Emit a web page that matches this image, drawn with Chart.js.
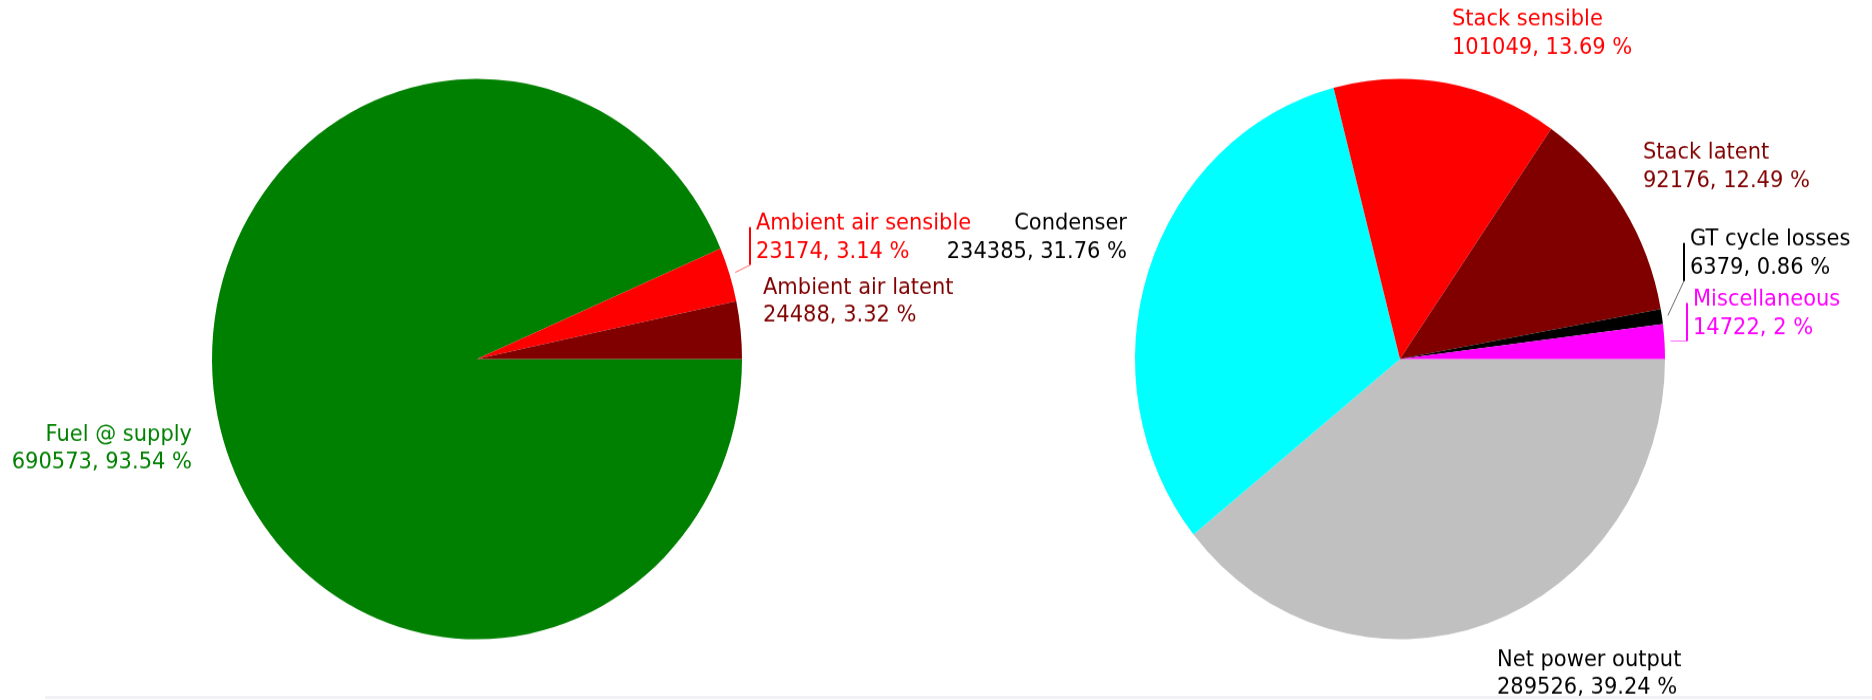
<!DOCTYPE html>
<html>
<head>
<meta charset="utf-8">
<script src="https://cdn.jsdelivr.net/npm/chart.js@4"></script>
<style>
  html, body { margin: 0; padding: 0; background: #fff; }
  body { width: 1872px; height: 700px; position: relative; overflow: hidden; }
  /* la imagen original esta un poco estirada en vertical */
  .pie { position: absolute; top: 0; left: 0; transform-origin: 0 0; transform: scaleY(1.0574); }
  .linea-base { position: absolute; left: 45px; right: 0; top: 696px; height: 3px; background: #f2f2f6; }
</style>
</head>
<body>
<canvas id="pie-entrada" class="pie" width="1872" height="662"></canvas>
<canvas id="pie-salida" class="pie" width="1872" height="662"></canvas>
<div class="linea-base"></div>
<script>
// datos en el orden de dibujo (sentido horario desde las 3 en punto)
const entradaNombres = ['Fuel @ supply', 'Ambient air sensible', 'Ambient air latent'];
const entradaValores = [690573, 23174, 24488];
const entradaPct = [93.54, 3.14, 3.32];
const entradaColores = ['#008000', '#ff0000', '#800000'];
const entradaTexto = ['#008000', '#ff0000', '#800000'];

const salidaNombres = ['Net power output', 'Condenser', 'Stack sensible', 'Stack latent', 'GT cycle losses', 'Miscellaneous'];
const salidaValores = [289526, 234385, 101049, 92176, 6379, 14722];
const salidaPct = [39.24, 31.76, 13.69, 12.49, 0.86, 2];
const salidaColores = ['#c0c0c0', '#00ffff', '#ff0000', '#800000', '#000000', '#ff00ff'];
const salidaTexto = ['#000000', '#000000', '#ff0000', '#800000', '#000000', '#ff00ff'];

// posicion de las etiquetas (coordenadas de la pagina)
const entradaEtiquetas = [
    { x: 192, y: 435, align: 'right' },
    { x: 756, y: 224, align: 'left', corchete: true },
    { x: 763, y: 288, align: 'left' }
];
const salidaEtiquetas = [
    { x: 1497, y: 660, align: 'left' },
    { x: 1127, y: 224, align: 'right' },
    { x: 1452, y: 20, align: 'left' },
    { x: 1643, y: 153, align: 'left' },
    { x: 1690, y: 240, align: 'left', corchete: true },
    { x: 1693, y: 300, align: 'left', corchete: true }
];

const ESCALA = 700 / 662;
const SALTO = 28;

function etiquetas(nombres, valores, pct, colores, layout) {
    return {
        id: 'etiquetas',
        afterDatasetsDraw(chart) {
            const ctx = chart.ctx;
            const meta = chart.getDatasetMeta(0);
            ctx.save();
            ctx.font = '21px "DejaVu Sans"';
            ctx.textBaseline = 'middle';
            meta.data.forEach((arc, i) => {
                const l = layout[i];
                const x = l.x;
                const y1 = l.y / ESCALA;
                const y2 = (l.y + SALTO) / ESCALA;
                ctx.fillStyle = colores[i];
                ctx.textAlign = l.align;
                ctx.fillText(nombres[i], x, y1);
                ctx.fillText(valores[i] + ', ' + pct[i] + ' %', x, y2);
                if (l.corchete) {
                    const bx = x - 6;
                    const top = (l.y + 3) / ESCALA;
                    const bottom = (l.y + SALTO + 13) / ESCALA;
                    ctx.strokeStyle = colores[i];
                    ctx.lineWidth = 2;
                    ctx.beginPath();
                    ctx.moveTo(bx, top);
                    ctx.lineTo(bx, bottom);
                    ctx.stroke();
                    // linea guia hasta el borde del sector
                    const p = arc.getProps(['x', 'y', 'startAngle', 'endAngle', 'outerRadius']);
                    const mid = (p.startAngle + p.endAngle) / 2;
                    const r = p.outerRadius + 6;
                    ctx.lineWidth = 1;
                    ctx.globalAlpha = 0.6;
                    ctx.beginPath();
                    ctx.moveTo(bx, bottom);
                    ctx.lineTo(p.x + r * Math.cos(mid), p.y + r * Math.sin(mid));
                    ctx.stroke();
                    ctx.globalAlpha = 1;
                }
            });
            ctx.restore();
        }
    };
}

function crearPie(id, nombres, valores, pct, colores, texto, layout, padding) {
    return new Chart(document.getElementById(id), {
        type: 'pie',
        data: {
            labels: nombres,
            datasets: [{
                data: valores,
                backgroundColor: colores,
                borderWidth: 0
            }]
        },
        options: {
            responsive: false,
            animation: false,
            rotation: 90,
            layout: { padding: padding },
            plugins: {
                legend: { display: false },
                tooltip: { enabled: false }
            }
        },
        plugins: [etiquetas(nombres, valores, pct, texto, layout)]
    });
}

crearPie('pie-entrada', entradaNombres, entradaValores, entradaPct, entradaColores, entradaTexto,
    entradaEtiquetas, { left: 212, right: 1130, top: 74.5, bottom: 57.5 });
crearPie('pie-salida', salidaNombres, salidaValores, salidaPct, salidaColores, salidaTexto,
    salidaEtiquetas, { left: 1135, right: 207, top: 74.5, bottom: 57.5 });
</script>
</body>
</html>
